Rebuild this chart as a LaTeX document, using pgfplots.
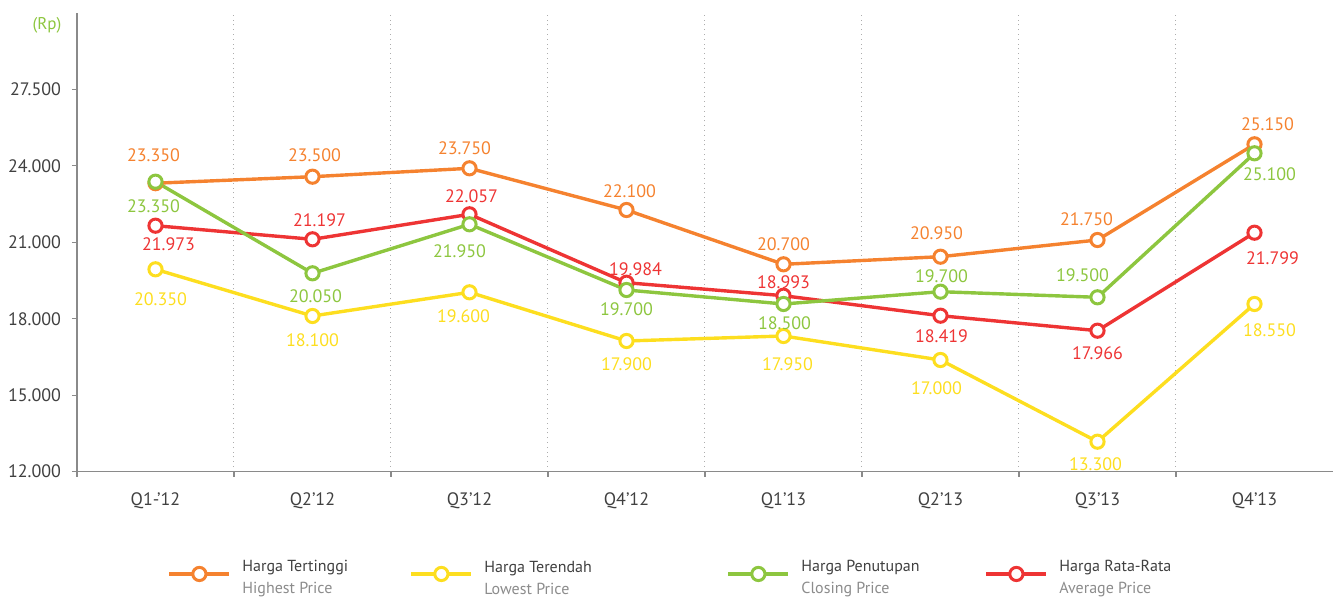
\documentclass[border=0pt]{standalone}
\usepackage{fontspec}
\setmainfont{PT Sans}
\usepackage{pgfplots}
\usepackage{pgfplotstable}
\pgfplotsset{compat=1.18}

\definecolor{cHigh}{HTML}{F5822F}
\definecolor{cLow}{HTML}{FDDE1F}
\definecolor{cClose}{HTML}{8DC63F}
\definecolor{cAvg}{HTML}{EE3434}
\definecolor{axisgray}{HTML}{8A8A8A}
\definecolor{txtdark}{HTML}{404040}
\definecolor{txtlight}{HTML}{8C8C8C}

% y = plotted position, dx/up = label offset in px, lab = printed value
\pgfplotstableread{
x y dx up lab
0 23320 -2 28 23.350
1 23576 2 21 23.500
2 23905 -5 20 23.750
3 22269 3 19 22.100
4 20138 0 20 20.700
5 20437 -4 23 20.950
6 21092 -11 21 21.750
7 24847 13 20 25.150
}\highest
\pgfplotstableread{
x y dx up lab
0 19942 5 -30 20.350
1 18110 0 -24 18.100
2 19040 -6 -24 19.600
3 17129 0 -23 17.900
4 17325 4 -28 17.950
5 16383 -4 -28 17.000
6 13177 -2 -23 13.300
7 18581 15 -26 18.550
}\lowest
\pgfplotstableread{
x y dx up lab
0 23380 -2 -25 23.350
1 19785 3 -23 20.050
2 21708 -10 -27 21.950
3 19130 0 -19 19.700
4 18581 1 -19 18.500
5 19063 1 16 19.700
6 18843 -15 22 19.500
7 24494 15 -21 25.100
}\closing
\pgfplotstableread{
x y dx up lab
0 21653 13 -19 21.973
1 21119 7 19 21.197
2 22100 2 18 22.057
3 19416 9 14 19.984
4 18906 0 14 18.993
5 18121 1 -20 18.419
6 17533 0 -23 17.966
7 21378 18 -25 21.799
}\average

\newcommand{\legtext}[3]{\raisebox{1pt}{\parbox[c]{#1}{#2\\\textcolor{txtlight}{#3}}}}

\begin{document}
\begin{tikzpicture}
\useasboundingbox (-38.5pt,-62.65pt) rectangle (628pt,235.85pt);
\begin{axis}[
    at={(0,0)}, anchor=south west,
    scale only axis,
    width=628pt, height=229.35pt,
    xmin=-0.5, xmax=7.5,
    ymin=12000, ymax=30000,
    axis x line*=bottom, axis y line*=left,
    axis line style={draw=axisgray, line width=0.6pt, -},
    tick align=outside,
    major tick length=2.5pt,
    tick style={draw=axisgray, line width=0.6pt},
    xtick={-0.5,0.5,...,6.5},
    xticklabels={},
    xmajorgrids,
    major grid style={draw=axisgray!70, dotted, line width=0.5pt},
    extra x ticks={0,...,7},
    extra x tick labels={Q1-’12,Q2’12,Q3’12,Q4’12,Q1’13,Q2’13,Q3’13,Q4’13},
    extra x tick style={grid=none, major tick length=0pt,
        ticklabel style={yshift=-7pt}},
    ytick={12000,15000,18000,21000,24000,27000},
    yticklabels={12.000,15.000,18.000,21.000,24.000,27.500},
    yticklabel style={xshift=-2pt},
    tick label style={font=\fontsize{9}{10}\selectfont, text=txtdark},
    legend columns=4,
    legend cell align=left,
    legend style={at={(0.0719,-0.2230)}, anchor=west, draw=none,
        inner sep=0pt, nodes={inner sep=0pt},
        font=\fontsize{8}{11}\selectfont, text=txtdark,
        /tikz/every odd column/.append style={column sep=5.65pt}},
    legend image code/.code={
        \draw[mark repeat=2, mark phase=2, #1]
            plot coordinates {(0pt,0pt) (15pt,0pt) (30pt,0pt)};},
    every axis plot/.append style={line width=1.7pt, mark=*, mark size=3.3pt,
        mark options={fill=white, line width=1.5pt}},
    nodes near coords={\pgfplotspointmeta},
    point meta=explicit symbolic,
    visualization depends on={\thisrow{dx} \as \dx},
    visualization depends on={\thisrow{up} \as \up},
]

\addlegendimage{cHigh, line width=1.7pt, mark=*, mark size=3.3pt, mark options={fill=white, line width=1.5pt}}
\addlegendentry{\legtext{83.65pt}{Harga Tertinggi}{Highest Price}}
\addlegendimage{cLow, line width=1.7pt, mark=*, mark size=3.3pt, mark options={fill=white, line width=1.5pt}}
\addlegendentry{\legtext{121.15pt}{Harga Terendah}{Lowest Price}}
\addlegendimage{cClose, line width=1.7pt, mark=*, mark size=3.3pt, mark options={fill=white, line width=1.5pt}}
\addlegendentry{\legtext{91.65pt}{Harga Penutupan}{Closing Price}}
\addlegendimage{cAvg, line width=1.7pt, mark=*, mark size=3.3pt, mark options={fill=white, line width=1.5pt}}
\addlegendentry{\legtext{60pt}{Harga Rata-Rata}{Average Price}}

\addplot[cLow, forget plot,
    nodes near coords style={anchor=center, xshift=\dx*0.5pt, yshift=\up*0.5pt,
        text=cLow, font=\fontsize{9}{11}\selectfont}]
    table[x=x, y=y, meta=lab] {\lowest};
\addplot[cHigh, forget plot,
    nodes near coords style={anchor=center, xshift=\dx*0.5pt, yshift=\up*0.5pt,
        text=cHigh, font=\fontsize{9}{11}\selectfont}]
    table[x=x, y=y, meta=lab] {\highest};
\addplot[cAvg, forget plot,
    nodes near coords style={anchor=center, xshift=\dx*0.5pt, yshift=\up*0.5pt,
        text=cAvg, font=\fontsize{9}{11}\selectfont}]
    table[x=x, y=y, meta=lab] {\average};
\addplot[cClose, forget plot,
    nodes near coords style={anchor=center, xshift=\dx*0.5pt, yshift=\up*0.5pt,
        text=cClose, font=\fontsize{9}{11}\selectfont}]
    table[x=x, y=y, meta=lab] {\closing};
\end{axis}
\node[text=cClose, font=\fontsize{8.5}{10}\selectfont] at (-15pt,223.3pt) {(Rp)};
\end{tikzpicture}
\end{document}
